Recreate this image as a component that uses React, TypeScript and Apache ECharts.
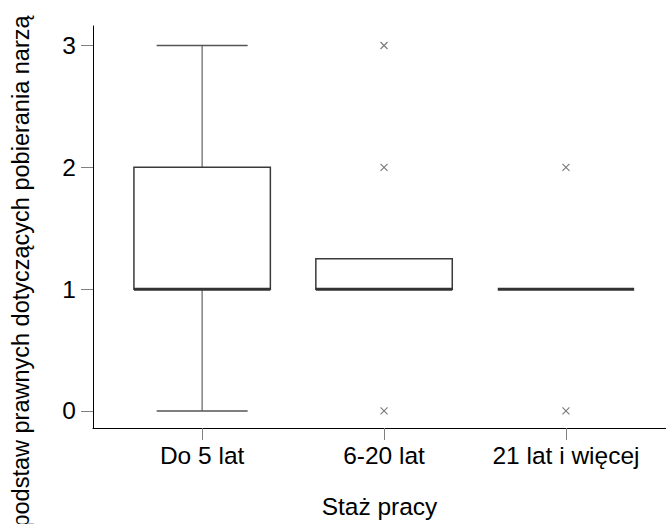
import React, { useEffect, useRef } from "react";
import * as echarts from "echarts";

// Work experience groups
const categories = ["Do 5 lat", "6-20 lat", "21 lat i więcej"];
// Box statistics per group: [lower whisker, Q1, median, Q3, upper whisker]
const boxStats = [
  [0, 1, 1, 2, 3],
  [1, 1, 1, 1.25, 1.25],
  [1, 1, 1, 1, 1],
];
// Outliers as [group position (1-based), value]
const outliers = [
  [2, 0],
  [2, 2],
  [2, 3],
  [3, 0],
  [3, 2],
];
const yTicks = [0, 1, 2, 3];
const xTicks = [1, 2, 3];

const xTitle = "Staż pracy";
const yTitle = "Znajomość podstaw prawnych dotyczących pobierania narządów";

export default function App() {
  const ref = useRef<HTMLDivElement>(null);

  useEffect(() => {
    if (!ref.current) return;
    const chart = echarts.init(ref.current, null, { renderer: "svg" });
    const font = "Liberation Sans, Arial, sans-serif";
    const fs = 24.5;

    const boxData = boxStats.map((s, i) => [i + 1, ...s]);

    chart.setOption({
      animation: false,
      backgroundColor: "#ffffff",
      grid: { left: 93, right: 0, top: 26, bottom: 96 },
      xAxis: {
        type: "value",
        min: 0.4,
        max: 3.55,
        name: xTitle,
        nameLocation: "middle",
        nameGap: 66,
        nameTextStyle: { fontSize: fs, color: "#000", fontFamily: font },
        axisLine: { show: true, onZero: false, lineStyle: { color: "#000", width: 1 } },
        axisTick: {
          show: true,
          customValues: xTicks,
          length: 12,
          lineStyle: { color: "#808080", width: 1 },
        },
        axisLabel: {
          customValues: xTicks,
          formatter: (v: number) => categories[Math.round(v) - 1] ?? "",
          fontSize: fs,
          color: "#000",
          fontFamily: font,
          margin: 15,
        },
        splitLine: { show: false },
      },
      yAxis: {
        type: "value",
        min: -0.14,
        max: 3.16,
        axisLine: { show: true, onZero: false, lineStyle: { color: "#000", width: 1 } },
        axisTick: {
          show: true,
          customValues: yTicks,
          length: 12,
          lineStyle: { color: "#808080", width: 1 },
        },
        axisLabel: {
          customValues: yTicks,
          fontSize: fs,
          color: "#000",
          fontFamily: font,
          margin: 17,
        },
        splitLine: { show: false },
      },
      graphic: [
        {
          type: "text",
          x: 21,
          y: 649,
          rotation: Math.PI / 2,
          z: 10,
          style: {
            text: yTitle,
            font: `23.5px ${font}`,
            fill: "#000",
            textAlign: "left",
            textVerticalAlign: "middle",
          },
        },
        {
          type: "rect",
          z: 20,
          shape: { x: 0, y: 0, width: 45, height: 15 },
          style: { fill: "#ffffff" },
        },
      ],
      series: [
        {
          type: "custom",
          data: boxData,
          renderItem: (params: any, api: any) => {
            const pos = api.value(0);
            const lo = api.value(1);
            const q1 = api.value(2);
            const med = api.value(3);
            const q3 = api.value(4);
            const hi = api.value(5);
            const boxHalf = api.size([0.75, 0])[0] / 2;
            const capHalf = api.size([0.5, 0])[0] / 2;
            const [cx, yQ1] = api.coord([pos, q1]);
            const yQ3 = api.coord([pos, q3])[1];
            const yMed = api.coord([pos, med])[1];
            const yLo = api.coord([pos, lo])[1];
            const yHi = api.coord([pos, hi])[1];
            const children: any[] = [];
            if (hi > q3) {
              children.push(
                {
                  type: "line",
                  shape: { x1: cx, y1: yQ3, x2: cx, y2: yHi },
                  style: { stroke: "#808080", lineWidth: 1.5 },
                },
                {
                  type: "line",
                  shape: { x1: cx - capHalf, y1: yHi, x2: cx + capHalf, y2: yHi },
                  style: { stroke: "#555555", lineWidth: 1.5 },
                }
              );
            }
            if (lo < q1) {
              children.push(
                {
                  type: "line",
                  shape: { x1: cx, y1: yQ1, x2: cx, y2: yLo },
                  style: { stroke: "#808080", lineWidth: 1.5 },
                },
                {
                  type: "line",
                  shape: { x1: cx - capHalf, y1: yLo, x2: cx + capHalf, y2: yLo },
                  style: { stroke: "#555555", lineWidth: 1.5 },
                }
              );
            }
            if (q3 > q1) {
              children.push({
                type: "rect",
                shape: { x: cx - boxHalf, y: yQ3, width: boxHalf * 2, height: yQ1 - yQ3 },
                style: { fill: "#ffffff", stroke: "#3a3a3a", lineWidth: 1.5 },
              });
            }
            children.push({
              type: "line",
              shape: { x1: cx - boxHalf, y1: yMed, x2: cx + boxHalf, y2: yMed },
              style: { stroke: "#333333", lineWidth: 3 },
            });
            return { type: "group", children };
          },
        },
        {
          type: "scatter",
          data: outliers,
          symbol: "path://M0,0L10,10M10,0L0,10",
          symbolSize: 7,
          itemStyle: { color: "none", borderColor: "#555555", borderWidth: 1.1 },
        },
      ],
    });

    return () => chart.dispose();
  }, []);

  return (
    <div
      ref={ref}
      style={{ position: "fixed", left: 0, top: 0, width: 666, height: 524 }}
    />
  );
}
